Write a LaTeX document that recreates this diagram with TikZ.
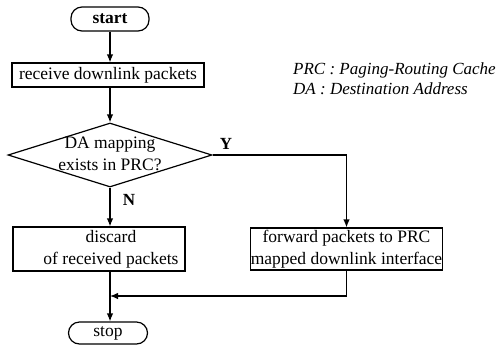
\documentclass[tikz,border=0pt]{standalone}
\usepackage{fontspec}
\setmainfont{Liberation Serif}
\usetikzlibrary{shapes.geometric,arrows.meta}
\begin{document}
\begin{tikzpicture}[x=1bp,y=-1bp,
  every node/.style={font=\fontsize{17.5bp}{22bp}\selectfont},
  box/.style={draw,line width=1.2bp,inner sep=0pt,align=center},
  term/.style={draw,line width=1.2bp,rounded corners=11bp,inner sep=0pt},
  conn/.style={line width=1.2bp,-{Latex[length=8bp,width=6.5bp]}},
  plain/.style={line width=1.2bp}]
\useasboundingbox (0,0) rectangle (501,350);
\node[term,minimum width=78bp,minimum height=24bp] (start) at (110,19) {\bfseries start};
\node[box,minimum width=192bp,minimum height=24bp] (recv) at (108,75) {receive downlink packets};
\node[draw,diamond,line width=1.2bp,minimum width=204bp,minimum height=64bp,inner sep=0pt] (dia) at (110,155) {};
\node[align=center,inner sep=0pt] (diatext) at (110,154) {DA mapping\\exists in PRC?};
\node[box,minimum width=172bp,minimum height=44bp] (disc) at (99,249) {};
\node[align=center,inner sep=0pt] (disctext) at (111,249) {discard\\of received packets};
\node[box,minimum width=191bp,minimum height=42bp] (fwd) at (346.5,249) {forward packets to PRC\\mapped downlink interface};
\node[term,minimum width=79bp,minimum height=22bp] (stop) at (108,333) {stop};
\coordinate (merge) at (110,296);
\node[font=\fontsize{17bp}{20bp}\selectfont\itshape,anchor=west,align=left,inner sep=0pt] (legend) at (293,79) {PRC : Paging-Routing Cache\\DA : Destination Address};
\node[font=\fontsize{17bp}{20bp}\selectfont\bfseries,inner sep=0pt] (ylab) at (226,144) {Y};
\node[font=\fontsize{17bp}{20bp}\selectfont\bfseries,inner sep=0pt] (nlab) at (129,200) {N};
\draw[conn] (start.south) -- (start.south |- recv.north);
\draw[conn] (recv.south -| dia.north) -- (dia.north);
\draw[conn] (dia.south) -- (dia.south |- disc.north);
\draw[conn] (dia.east) -| (fwd.north);
\draw[plain] (dia.south |- disc.south) -- (merge);
\draw[conn] (merge) -- (merge |- stop.north);
\draw[conn] (fwd.south) |- (merge);
\end{tikzpicture}
\end{document}
